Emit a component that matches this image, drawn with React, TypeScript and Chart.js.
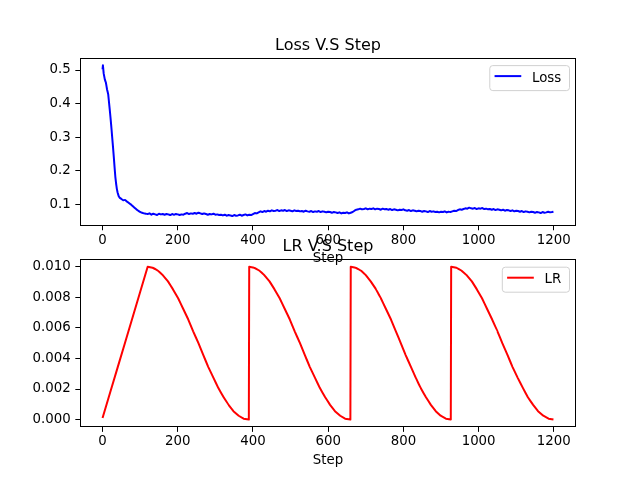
import React, { useEffect, useRef } from 'react';
import { Chart, registerables } from 'chart.js';

Chart.register(...registerables);

// ---------- data ----------
const lossSteps = [
  0, 1, 3, 6, 9, 12, 15, 18, 20, 22, 24, 26, 28, 30, 32, 34, 36, 38, 40, 43, 46, 50, 55, 60, 65, 70, 75, 80, 85, 90, 95,
  100, 105, 110, 115,
  120, 125, 130, 135, 140, 145, 150, 155, 160, 165, 170, 175, 180, 185, 190, 195, 200, 205, 210, 215,
  220, 225, 230, 235, 240, 245, 250, 255, 260, 265, 270, 275, 280, 285, 290, 295, 300, 305, 310, 315,
  320, 325, 330, 335, 340, 345, 350, 355, 360, 365, 370, 375, 380, 385, 390, 395, 400, 405, 410, 415,
  420, 425, 430, 435, 440, 445, 450, 455, 460, 465, 470, 475, 480, 485, 490, 495, 500, 505, 510, 515,
  520, 525, 530, 535, 540, 545, 550, 555, 560, 565, 570, 575, 580, 585, 590, 595, 600, 605, 610, 615,
  620, 625, 630, 635, 640, 645, 650, 655, 660, 665, 670, 675, 680, 685, 690, 695, 700, 705, 710, 715,
  720, 725, 730, 735, 740, 745, 750, 755, 760, 765, 770, 775, 780, 785, 790, 795, 800, 805, 810, 815,
  820, 825, 830, 835, 840, 845, 850, 855, 860, 865, 870, 875, 880, 885, 890, 895, 900, 905, 910, 915,
  920, 925, 930, 935, 940, 945, 950, 955, 960, 965, 970, 975, 980, 985, 990, 995, 1000, 1005, 1010, 1015,
  1020, 1025, 1030, 1035, 1040, 1045, 1050, 1055, 1060, 1065, 1070, 1075, 1080, 1085, 1090, 1095, 1100, 1105, 1110, 1115,
  1120, 1125, 1130, 1135, 1140, 1145, 1150, 1155, 1160, 1165, 1170, 1175, 1180, 1185, 1190, 1195, 1199,
];
const lossValues = [
  0.502, 0.514, 0.49, 0.472, 0.462, 0.442, 0.428, 0.395, 0.372, 0.348, 0.322, 0.295, 0.268, 0.24, 0.21, 0.182, 0.162,
  0.146, 0.135, 0.124, 0.119, 0.116, 0.112, 0.113, 0.108, 0.104, 0.1, 0.095, 0.09, 0.085, 0.081,
  0.077, 0.075, 0.073, 0.072,
  0.071, 0.073, 0.069, 0.072, 0.07, 0.068, 0.072, 0.07, 0.071, 0.069, 0.071, 0.07, 0.068, 0.071, 0.069, 0.071, 0.07, 0.068, 0.07, 0.069,
  0.072, 0.074, 0.071, 0.073, 0.072, 0.074, 0.072, 0.075, 0.073, 0.071, 0.073, 0.071, 0.069, 0.071, 0.07, 0.072, 0.069, 0.07, 0.068, 0.069,
  0.067, 0.069, 0.066, 0.068, 0.067, 0.065, 0.068, 0.066, 0.067, 0.069, 0.066, 0.068, 0.07, 0.067, 0.069, 0.068, 0.071, 0.074, 0.073, 0.076,
  0.079, 0.077, 0.08, 0.078, 0.081, 0.079, 0.082, 0.08, 0.081, 0.083, 0.08, 0.082, 0.081, 0.083, 0.08, 0.082, 0.081, 0.079, 0.082, 0.08,
  0.081, 0.079, 0.08, 0.078, 0.081, 0.079, 0.078, 0.08, 0.077, 0.079, 0.078, 0.08, 0.077, 0.079, 0.078, 0.076, 0.078, 0.077, 0.075, 0.077,
  0.076, 0.074, 0.076, 0.073, 0.075, 0.074, 0.076, 0.073, 0.075, 0.077, 0.081, 0.084, 0.085, 0.087, 0.085, 0.086, 0.088, 0.085, 0.087, 0.086,
  0.088, 0.085, 0.087, 0.086, 0.084, 0.087, 0.085, 0.086, 0.084, 0.086, 0.083, 0.085, 0.084, 0.082, 0.084, 0.083, 0.085, 0.082, 0.081, 0.083,
  0.08, 0.082, 0.081, 0.079, 0.081, 0.08, 0.078, 0.08, 0.079, 0.077, 0.08, 0.078, 0.079, 0.077, 0.078, 0.076, 0.078, 0.077, 0.079, 0.076,
  0.078, 0.077, 0.079, 0.081, 0.08, 0.083, 0.085, 0.084, 0.086, 0.088, 0.087, 0.09, 0.088, 0.087, 0.089, 0.086, 0.088, 0.087, 0.089, 0.086,
  0.087, 0.085, 0.086, 0.084, 0.086, 0.083, 0.085, 0.084, 0.082, 0.084, 0.081, 0.083, 0.082, 0.08, 0.082, 0.079, 0.081, 0.08, 0.078, 0.08,
  0.077, 0.079, 0.078, 0.076, 0.078, 0.077, 0.075, 0.077, 0.076, 0.074, 0.077, 0.075, 0.076, 0.078, 0.076, 0.077, 0.078,
];

const lrSteps = [
  0, 40, 80, 120,
  133, 147, 160, 174, 187, 201, 214, 228, 241, 255, 268, 281, 295, 308, 322, 335, 348, 362, 375, 389,
  390, 403, 417, 430, 444, 457, 471, 484, 498, 511, 525, 538, 551, 565, 578, 592, 605, 618, 632, 645, 659,
  660, 673, 687, 700, 713, 727, 740, 753, 767, 780, 793, 806, 820, 833, 846, 860, 873, 886, 899, 913, 926,
  927, 941, 954, 968, 982, 995, 1009, 1022, 1036, 1050, 1063, 1077, 1090, 1104, 1118, 1131, 1145, 1158, 1172, 1186, 1199,
];
const lrValues = [
  0.0001, 0.0034, 0.0067, 0.01,
  0.00994, 0.00976, 0.00946, 0.00905, 0.00854, 0.00794, 0.00727, 0.00655, 0.00578, 0.005, 0.00422, 0.00345, 0.00273,
  0.00206, 0.00146, 0.00096, 0.00055, 0.00025, 0.00006, 0.0,
  0.01, 0.00994, 0.00976, 0.00946, 0.00905, 0.00854, 0.00794, 0.00727, 0.00655, 0.00578, 0.005, 0.00422, 0.00345,
  0.00273, 0.00206, 0.00146, 0.00096, 0.00055, 0.00025, 0.00006, 0.0,
  0.01, 0.00994, 0.00976, 0.00946, 0.00905, 0.00854, 0.00794, 0.00727, 0.00655, 0.00578, 0.005, 0.00422, 0.00345,
  0.00273, 0.00206, 0.00146, 0.00096, 0.00055, 0.00025, 0.00006, 0.0,
  0.01, 0.00994, 0.00976, 0.00946, 0.00905, 0.00854, 0.00794, 0.00727, 0.00655, 0.00578, 0.005, 0.00422, 0.00345,
  0.00273, 0.00206, 0.00146, 0.00096, 0.00055, 0.00025, 0.00006, 0.0,
];

const stepTicks = [0, 200, 400, 600, 800, 1000, 1200];
const lossTicks = [0.1, 0.2, 0.3, 0.4, 0.5];
const lrTicks = [0.0, 0.002, 0.004, 0.006, 0.008, 0.01];

// ---------- styling ----------
const FONT = 'DejaVu Sans';
const TICK_SIZE = 13.333;
const TITLE_SIZE = 16;
const AREA_H = 168;
const X_BOX_H = 41.2;

const decorPlugin = {
  id: 'decor',
  afterDraw(chart: any, _args: any, opts: any) {
    const { ctx, chartArea: a } = chart;
    ctx.save();
    // spines
    ctx.strokeStyle = '#000';
    ctx.lineWidth = 1;
    const l = Math.round(a.left) + 0.5;
    const t = Math.round(a.top) + 0.5;
    const r = Math.round(a.right) - 0.5;
    const b = Math.round(a.bottom) - 0.5;
    ctx.strokeRect(l, t, r - l, b - t);

    // title
    ctx.fillStyle = '#000';
    ctx.font = `${TITLE_SIZE}px "${FONT}"`;
    ctx.textAlign = 'center';
    ctx.textBaseline = 'alphabetic';
    ctx.fillText(opts.title, (a.left + a.right) / 2, a.top - 8);

    // legend
    ctx.font = `${TICK_SIZE}px "${FONT}"`;
    const tw = ctx.measureText(opts.label).width;
    const w = tw + 50.5;
    const h = 25;
    const bx = a.right - 7 - w;
    const by = a.top + 7.5;
    ctx.beginPath();
    (ctx as any).roundRect(bx + 0.5, by + 0.5, w, h, 3);
    ctx.fillStyle = 'rgba(255,255,255,0.8)';
    ctx.fill();
    ctx.strokeStyle = 'rgba(204,204,204,0.9)';
    ctx.lineWidth = 1;
    ctx.stroke();
    ctx.beginPath();
    ctx.strokeStyle = opts.color;
    ctx.lineWidth = 2;
    ctx.moveTo(bx + 5.3, by + 11);
    ctx.lineTo(bx + 32, by + 11);
    ctx.stroke();
    ctx.fillStyle = '#000';
    ctx.textAlign = 'left';
    ctx.fillText(opts.label, bx + 42.7, by + 16.5);
    ctx.restore();
  },
};

function makeConfig(
  steps: number[],
  values: number[],
  label: string,
  color: string,
  title: string,
  areaTop: number,
  yMin: number,
  yMax: number,
  yTicks: number[],
  yDigits: number
): any {
  const tickFont = { size: TICK_SIZE, family: FONT };
  return {
    type: 'line',
    data: {
      datasets: [
        {
          label,
          data: steps.map((x, i) => ({ x, y: values[i] })),
          borderColor: color,
          backgroundColor: color,
          borderWidth: 2,
          borderJoinStyle: 'round',
          borderCapStyle: 'butt',
          pointRadius: 0,
          fill: false,
          tension: 0.000001,
          capBezierPoints: false,
        },
      ],
    },
    options: {
      responsive: false,
      animation: false,
      devicePixelRatio: 1,
      events: [],
      layout: {
        padding: { left: 0, right: 64, top: areaTop, bottom: 480 - areaTop - AREA_H - X_BOX_H },
      },
      plugins: {
        legend: { display: false },
        title: { display: false },
        tooltip: { enabled: false },
        decor: { title, label, color },
      },
      scales: {
        x: {
          type: 'linear',
          position: 'bottom',
          min: -59.95,
          max: 1258.95,
          afterBuildTicks: (s: any) => {
            s.ticks = stepTicks.map((v) => ({ value: v }));
          },
          afterFit: (s: any) => {
            s.height = X_BOX_H;
          },
          ticks: {
            callback: (v: any) => String(v),
            maxRotation: 0,
            autoSkip: false,
            padding: 2,
            color: '#000',
            font: tickFont,
          },
          grid: { drawOnChartArea: false, drawTicks: true, tickLength: 4.67, color: '#000', lineWidth: 1 },
          border: { display: false },
          title: { display: true, text: 'Step', color: '#000', font: tickFont, padding: 0 },
        },
        y: {
          type: 'linear',
          position: 'left',
          min: yMin,
          max: yMax,
          afterBuildTicks: (s: any) => {
            s.ticks = yTicks.map((v) => ({ value: v }));
          },
          afterFit: (s: any) => {
            s.width = 80;
          },
          ticks: {
            callback: (v: any) => Number(v).toFixed(yDigits),
            autoSkip: false,
            padding: 4.67,
            color: '#000',
            font: tickFont,
          },
          grid: { drawOnChartArea: false, drawTicks: true, tickLength: 4.67, color: '#000', lineWidth: 1 },
          border: { display: false },
        },
      },
    },
    plugins: [decorPlugin],
  };
}

export default function App() {
  const topRef = useRef<HTMLCanvasElement>(null);
  const botRef = useRef<HTMLCanvasElement>(null);

  useEffect(() => {
    const c1 = new Chart(
      topRef.current as HTMLCanvasElement,
      makeConfig(lossSteps, lossValues, 'Loss', '#0000ff', 'Loss V.S Step', 57.6, 0.0366, 0.537, lossTicks, 1)
    );
    const c2 = new Chart(
      botRef.current as HTMLCanvasElement,
      makeConfig(lrSteps, lrValues, 'LR', '#ff0000', 'LR V.S Step', 259.2, -0.0005, 0.0105, lrTicks, 3)
    );
    return () => {
      c1.destroy();
      c2.destroy();
    };
  }, []);

  const style: React.CSSProperties = { position: 'absolute', left: 0, top: 0, width: 640, height: 480 };
  return (
    <div>
      <canvas ref={topRef} width={640} height={480} style={style} />
      <canvas ref={botRef} width={640} height={480} style={style} />
    </div>
  );
}
